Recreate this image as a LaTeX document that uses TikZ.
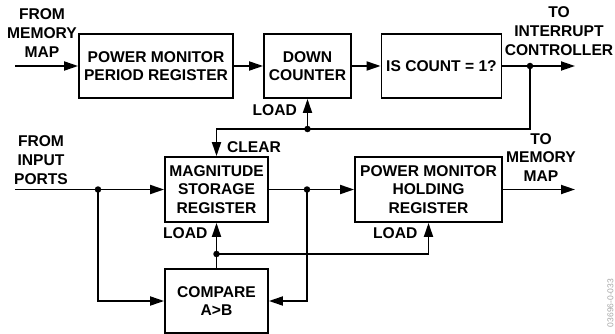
\documentclass[tikz,border=0pt]{standalone}
\usepackage{fontspec}
\setmainfont{Liberation Sans}
\usetikzlibrary{arrows.meta}
\begin{document}
\begin{tikzpicture}[x=1pt,y=-1pt,
  lbl/.style={font=\fontsize{15.6}{18.7}\selectfont\bfseries, align=center, inner sep=0pt},
  blk/.style={draw, line width=1.8pt, lbl, minimum height=64pt},
  wire/.style={line width=1.8pt},
  arr/.style={wire, -{Triangle[length=14pt,width=9pt]}},
  dotn/.style={circle, fill, inner sep=0pt, minimum size=6.5pt}]
\useasboundingbox (0,0) rectangle (615,334);
% blocks
\node[blk, minimum width=154pt] (pmpr) at (156,66) {POWER MONITOR\\PERIOD REGISTER};
\node[blk, minimum width=87pt] (dc) at (307.5,66) {DOWN\\COUNTER};
\node[blk, minimum width=120pt] (isc) at (441.5,66) {IS COUNT = 1?};
\node[blk, minimum width=103pt, minimum height=65pt] (mag) at (216.5,189.5) {MAGNITUDE\\STORAGE\\REGISTER};
\node[blk, minimum width=147pt, minimum height=65pt] (pmhr) at (428.5,189.5) {POWER MONITOR\\HOLDING\\REGISTER};
\node[blk, minimum width=103pt] (cmp) at (216.5,301) {\rule{0pt}{10pt}COMPARE\\A>B};
% top row
\coordinate (mmin) at (15,66);
\coordinate (intout) at (575,66);
\draw[arr] (mmin) -- (pmpr.west);
\draw[arr] (pmpr.east) -- (dc.west);
\draw[arr] (dc.east) -- (isc.west);
\node[dotn] (d1) at (530,66) {};
\draw[arr] (isc.east) -- (intout);
\node[dotn] (d2) at (307.5,129) {};
\draw[wire] (d1.center) -- (530,129) -- (d2.center);
\draw[arr] (d2.center) -- (dc.south);
\draw[arr] (d2.center) -- (216.5,129) -- (mag.north);
% bottom
\coordinate (inp) at (15,189.5);
\coordinate (memout) at (575,189.5);
\node[dotn] (d3) at (98,189.5) {};
\draw[arr] (inp) -- (mag.west);
\draw[arr] (d3.center) -- (98,301) -- (cmp.west);
\node[dotn] (d4) at (307,189.5) {};
\draw[arr] (mag.east) -- (pmhr.west);
\draw[arr] (d4.center) -- (307,301) -- (cmp.east);
\draw[arr] (pmhr.east) -- (memout);
\node[dotn] (d5) at (216.5,254) {};
\draw[arr] (cmp.north) -- (mag.south);
\draw[arr] (d5.center) -- (428.5,254) -- (pmhr.south);
% labels
\node[lbl] (t1) at (42,33) {FROM\\MEMORY\\MAP};
\node[lbl] (t2) at (559,31) {TO\\INTERRUPT\\CONTROLLER};
\node[lbl] (t3) at (41,160) {FROM\\INPUT\\PORTS};
\node[lbl] (t4) at (541,157.5) {TO\\MEMORY\\MAP};
\node[lbl, anchor=base east] (l1) at (297,115) {LOAD};
\node[lbl, anchor=base west] (l2) at (227,152) {CLEAR};
\node[lbl, anchor=base west] (l3) at (163,238) {LOAD};
\node[lbl, anchor=base west] (l4) at (373,238) {LOAD};
\node[rotate=90, font=\fontsize{8.5}{9}\selectfont, text=black!35, inner sep=0pt] (fid) at (610.5,303) {03696-0-033};
\end{tikzpicture}
\end{document}
